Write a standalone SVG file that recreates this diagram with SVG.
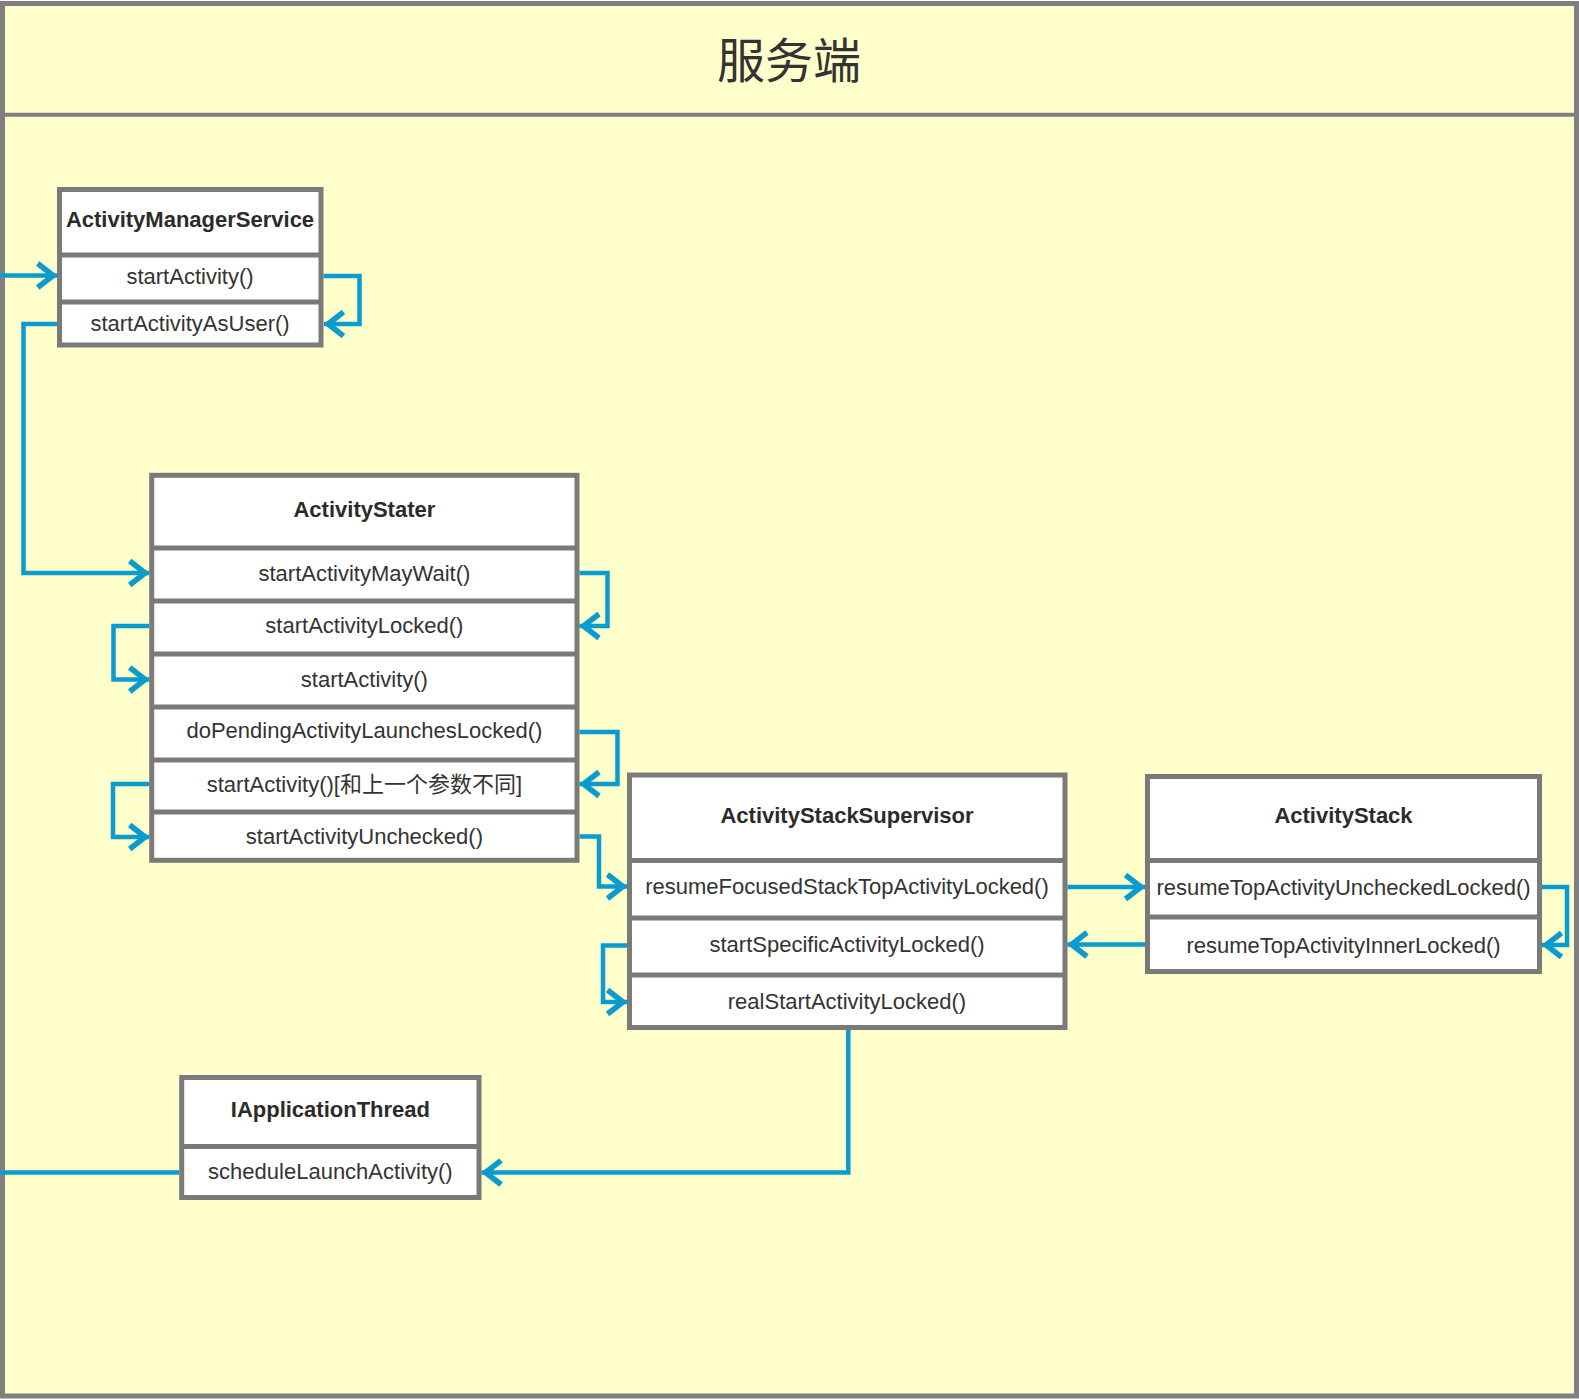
<svg xmlns="http://www.w3.org/2000/svg" width="1579" height="1399" viewBox="0 0 1579 1399">
  <style>
    .frame { fill: #FFFFCC; stroke: #808080; stroke-width: 5; }
    .sep { stroke: #808080; stroke-width: 4; }
    .box { fill: #FFFFFF; stroke: #7a7a7a; stroke-width: 5; }
    .row { stroke: #7a7a7a; stroke-width: 5; }
    .title { font-family: "Noto Sans CJK SC", "Noto Sans", sans-serif; font-size: 48px; fill: #333333; text-anchor: middle; }
    .head { font-family: "Liberation Sans", Arial, "Noto Sans CJK SC", sans-serif; font-size: 22px; font-weight: bold; fill: #2b2b2b; text-anchor: middle; }
    .method { font-family: "Liberation Sans", Arial, "Noto Sans CJK SC", sans-serif; font-size: 22px; fill: #333333; text-anchor: middle; }
    .link { fill: none; stroke: #0a9bcf; stroke-width: 4.5; stroke-linejoin: miter; }
  </style>
  <defs>
    <!-- open chevron head, tip lands on the path end -->
    <marker id="arrow" markerUnits="userSpaceOnUse" markerWidth="32" markerHeight="36" viewBox="-26 -18 32 36" refX="0" refY="0" orient="auto" overflow="visible">
      <path d="M-19.5,-12 L-4,0 L-19.5,12" fill="none" stroke="#0a9bcf" stroke-width="5.5" stroke-linejoin="miter" stroke-miterlimit="10"/>
    </marker>
  </defs>

  <!-- swimlane frame with title bar -->
  <g id="lane">
    <rect class="frame" x="2.5" y="3.5" width="1574" height="1392.5"/>
    <line class="sep" x1="2.5" y1="114.7" x2="1576.5" y2="114.7"/>
    <text class="title" x="789" y="77.5">服务端</text>
  </g>

  <!-- ActivityManagerService -->
  <g id="ams">
    <rect class="box" x="59.5" y="189.5" width="261.5" height="155.5"/>
    <line class="row" x1="59.5" y1="255" x2="321" y2="255"/>
    <line class="row" x1="59.5" y1="302" x2="321" y2="302"/>
    <text class="head" x="190" y="227">ActivityManagerService</text>
    <text class="method" x="190" y="283.5">startActivity()</text>
    <text class="method" x="190" y="331">startActivityAsUser()</text>
  </g>

  <!-- ActivityStater -->
  <g id="activity-stater">
    <rect class="box" x="151.7" y="475.3" width="425.3" height="385"/>
    <line class="row" x1="151.7" y1="548" x2="577" y2="548"/>
    <line class="row" x1="151.7" y1="601" x2="577" y2="601"/>
    <line class="row" x1="151.7" y1="654" x2="577" y2="654"/>
    <line class="row" x1="151.7" y1="707" x2="577" y2="707"/>
    <line class="row" x1="151.7" y1="760" x2="577" y2="760"/>
    <line class="row" x1="151.7" y1="812" x2="577" y2="812"/>
    <text class="head" x="364.4" y="517">ActivityStater</text>
    <text class="method" x="364.4" y="580.5">startActivityMayWait()</text>
    <text class="method" x="364.4" y="633">startActivityLocked()</text>
    <text class="method" x="364.4" y="686.5">startActivity()</text>
    <text class="method" x="364.4" y="738">doPendingActivityLaunchesLocked()</text>
    <text class="method" x="364.4" y="791.5">startActivity()[和上一个参数不同]</text>
    <text class="method" x="364.4" y="844">startActivityUnchecked()</text>
  </g>

  <!-- ActivityStackSupervisor -->
  <g id="activity-stack-supervisor">
    <rect class="box" x="629.5" y="775" width="435.5" height="252.5"/>
    <line class="row" x1="629.5" y1="860.5" x2="1065" y2="860.5"/>
    <line class="row" x1="629.5" y1="918" x2="1065" y2="918"/>
    <line class="row" x1="629.5" y1="975" x2="1065" y2="975"/>
    <text class="head" x="847" y="823">ActivityStackSupervisor</text>
    <text class="method" x="847" y="894">resumeFocusedStackTopActivityLocked()</text>
    <text class="method" x="847" y="952">startSpecificActivityLocked()</text>
    <text class="method" x="847" y="1009">realStartActivityLocked()</text>
  </g>

  <!-- ActivityStack -->
  <g id="activity-stack">
    <rect class="box" x="1147.5" y="776.5" width="392" height="195"/>
    <line class="row" x1="1147.5" y1="860.5" x2="1539.5" y2="860.5"/>
    <line class="row" x1="1147.5" y1="917" x2="1539.5" y2="917"/>
    <text class="head" x="1343.5" y="823">ActivityStack</text>
    <text class="method" x="1343.5" y="895">resumeTopActivityUncheckedLocked()</text>
    <text class="method" x="1343.5" y="953">resumeTopActivityInnerLocked()</text>
  </g>

  <!-- IApplicationThread -->
  <g id="iapplication-thread">
    <rect class="box" x="181.7" y="1077.5" width="297.3" height="120"/>
    <line class="row" x1="181.7" y1="1146.5" x2="479" y2="1146.5"/>
    <text class="head" x="330.4" y="1117">IApplicationThread</text>
    <text class="method" x="330.4" y="1179">scheduleLaunchActivity()</text>
  </g>

  <!-- call flow -->
  <g id="connectors">
    <path class="link" d="M0,275.5 H57.2" marker-end="url(#arrow)"/>
    <path class="link" d="M323.5,276 H359.5 V324 H324" marker-end="url(#arrow)"/>
    <path class="link" d="M57,324 H23.5 V573 H149.2" marker-end="url(#arrow)"/>
    <path class="link" d="M579.5,573 H607.5 V626 H579.5" marker-end="url(#arrow)"/>
    <path class="link" d="M149.2,626 H113.5 V679.5 H149.2" marker-end="url(#arrow)"/>
    <path class="link" d="M579.5,732 H617.5 V784 H579.5" marker-end="url(#arrow)"/>
    <path class="link" d="M149.2,784 H113 V837 H149.2" marker-end="url(#arrow)"/>
    <path class="link" d="M579.5,836.5 H599 V886.5 H627" marker-end="url(#arrow)"/>
    <path class="link" d="M1067.5,887 H1145" marker-end="url(#arrow)"/>
    <path class="link" d="M1145,944.5 H1067.5" marker-end="url(#arrow)"/>
    <path class="link" d="M1542,887 H1567 V945 H1542" marker-end="url(#arrow)"/>
    <path class="link" d="M627,945.5 H603 V1002 H627" marker-end="url(#arrow)"/>
    <path class="link" d="M848.3,1030 V1172.5 H481.5" marker-end="url(#arrow)"/>
    <path class="link" d="M179.2,1172.5 H0"/>
  </g>
</svg>
